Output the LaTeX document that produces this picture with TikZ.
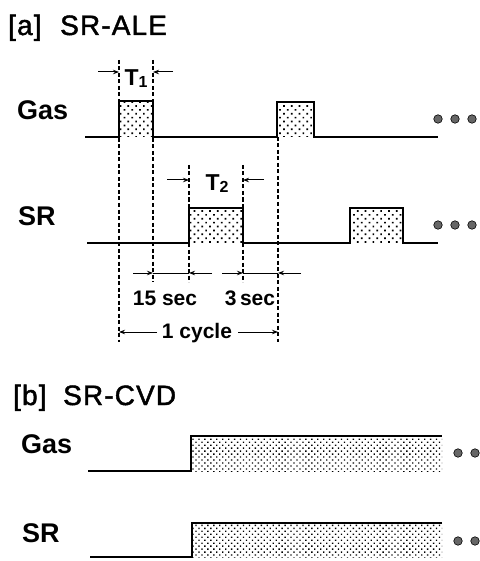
\documentclass[tikz,border=0pt]{standalone}
\usepackage{fontspec}
\setmainfont{Liberation Sans}
\newfontfamily\ttlfont[FakeBold=1.6,LetterSpace=4]{Liberation Sans}
\usetikzlibrary{patterns.meta,arrows.meta}
\begin{document}
\begin{tikzpicture}[x=1pt,y=-1pt,
  sig/.style={line width=2.3pt, line join=miter},
  dashln/.style={line width=1.1pt, dash pattern=on 4pt off 2.5pt},
  dimarr/.style={line width=1pt, -{Stealth[length=6pt,width=4.5pt]}},
  dimln/.style={line width=1pt},
  dotA/.style={pattern={Dots[distance=5.5pt,radius=1.2pt,angle=45]}},
  dotB/.style={pattern={Dots[distance=4.2pt,radius=0.95pt,angle=45]}},
  ell/.style={circle, draw=black, fill=black!60, line width=0.6pt, minimum size=8.5pt, inner sep=0pt},
  ttl/.style={font=\ttlfont\fontsize{28}{28}\selectfont, anchor=base west, inner sep=0pt},
  lbl/.style={font=\bfseries\fontsize{27}{27}\selectfont, anchor=base west, inner sep=0pt},
  dimtxt/.style={font=\bfseries\fontsize{21}{21}\selectfont, inner sep=0pt, anchor=base},
]
\useasboundingbox (0,0) rectangle (479,561);

% titles and labels
\node[ttl] (ta) at (8,35) {[a]};
\node[ttl] (tan) at (60,35) {SR-ALE};
\node[ttl] (tb) at (13,405) {[b]};
\node[ttl] (tbn) at (63,405) {SR-CVD};
\node[lbl] (lga) at (17,120) {Gas};
\node[lbl] (lsa) at (18,225) {SR};
\node[lbl] (lgb) at (21,453) {Gas};
\node[lbl] (lsb) at (22,542) {SR};

% (a) signals
\fill[dotA] (119,101) rectangle (153,137);
\fill[dotA] (277,102) rectangle (314,137);
\draw[sig] (85,137) -- (119,137) -- (119,101) -- (153,101) -- (153,137)
  -- (277,137) -- (277,102) -- (314,102) -- (314,137) -- (438,137);
\fill[dotA] (189,208) rectangle (243,243);
\fill[dotA] (350,208) rectangle (403,243);
\draw[sig] (87,243) -- (189,243) -- (189,208) -- (243,208) -- (243,243)
  -- (350,243) -- (350,208) -- (403,208) -- (403,243) -- (438,243);
\node[ell] (ga1) at (438,119) {};
\node[ell] (ga2) at (455,119) {};
\node[ell] (ga3) at (472,119) {};
\node[ell] (sa1) at (438,225) {};
\node[ell] (sa2) at (455,225) {};
\node[ell] (sa3) at (472,225) {};

% dashed guides
\draw[dashln] (119,60) -- (119,342);
\draw[dashln] (153,60) -- (153,282);
\draw[dashln] (189,165) -- (189,282);
\draw[dashln] (243,165) -- (243,282);
\draw[dashln] (278,137) -- (278,342);

% dimension texts
\node[dimtxt] (t1) at (136,86) {\fontsize{23}{23}\selectfont T\raisebox{-1.5pt}{\fontsize{16}{16}\selectfont 1}};
\node[dimtxt] (t2) at (217,191) {\fontsize{23}{23}\selectfont T\raisebox{-1.5pt}{\fontsize{16}{16}\selectfont 2}};
\node[dimtxt] (s15) at (165,305) {15 sec};
\node[dimtxt] (s3) at (250,305) {3\,sec};
\node[dimtxt] (cyc) at (197,338) {1 cycle};

% dimension arrows
\draw[dimarr] (98,72) -- (119,72);
\draw[dimarr] (173,72) -- (153,72);
\draw[dimarr] (167,180) -- (189,180);
\draw[dimarr] (264,180) -- (243,180);
\draw[dimarr] (133,273) -- (153,273);
\draw[dimln] (153,273) -- (189,273);
\draw[dimarr] (212,273) -- (189,273);
\draw[dimarr] (222,273) -- (243,273);
\draw[dimln] (243,273) -- (278,273);
\draw[dimarr] (301,273) -- (278,273);
\draw[dimarr] (157,332) -- (119,332);
\draw[dimarr] (238,332) -- (278,332);

% (b) signals
\fill[dotB] (191,436) rectangle (442,471);
\draw[sig] (88,471) -- (191,471) -- (191,436) -- (442,436);
\fill[dotB] (192,523) rectangle (442,557);
\draw[sig] (90,557) -- (192,557) -- (192,523) -- (442,523);
\node[ell] (gb1) at (458,453) {};
\node[ell] (gb2) at (475,453) {};
\node[ell] (sb1) at (458,541) {};
\node[ell] (sb2) at (475,541) {};
\end{tikzpicture}
\end{document}
